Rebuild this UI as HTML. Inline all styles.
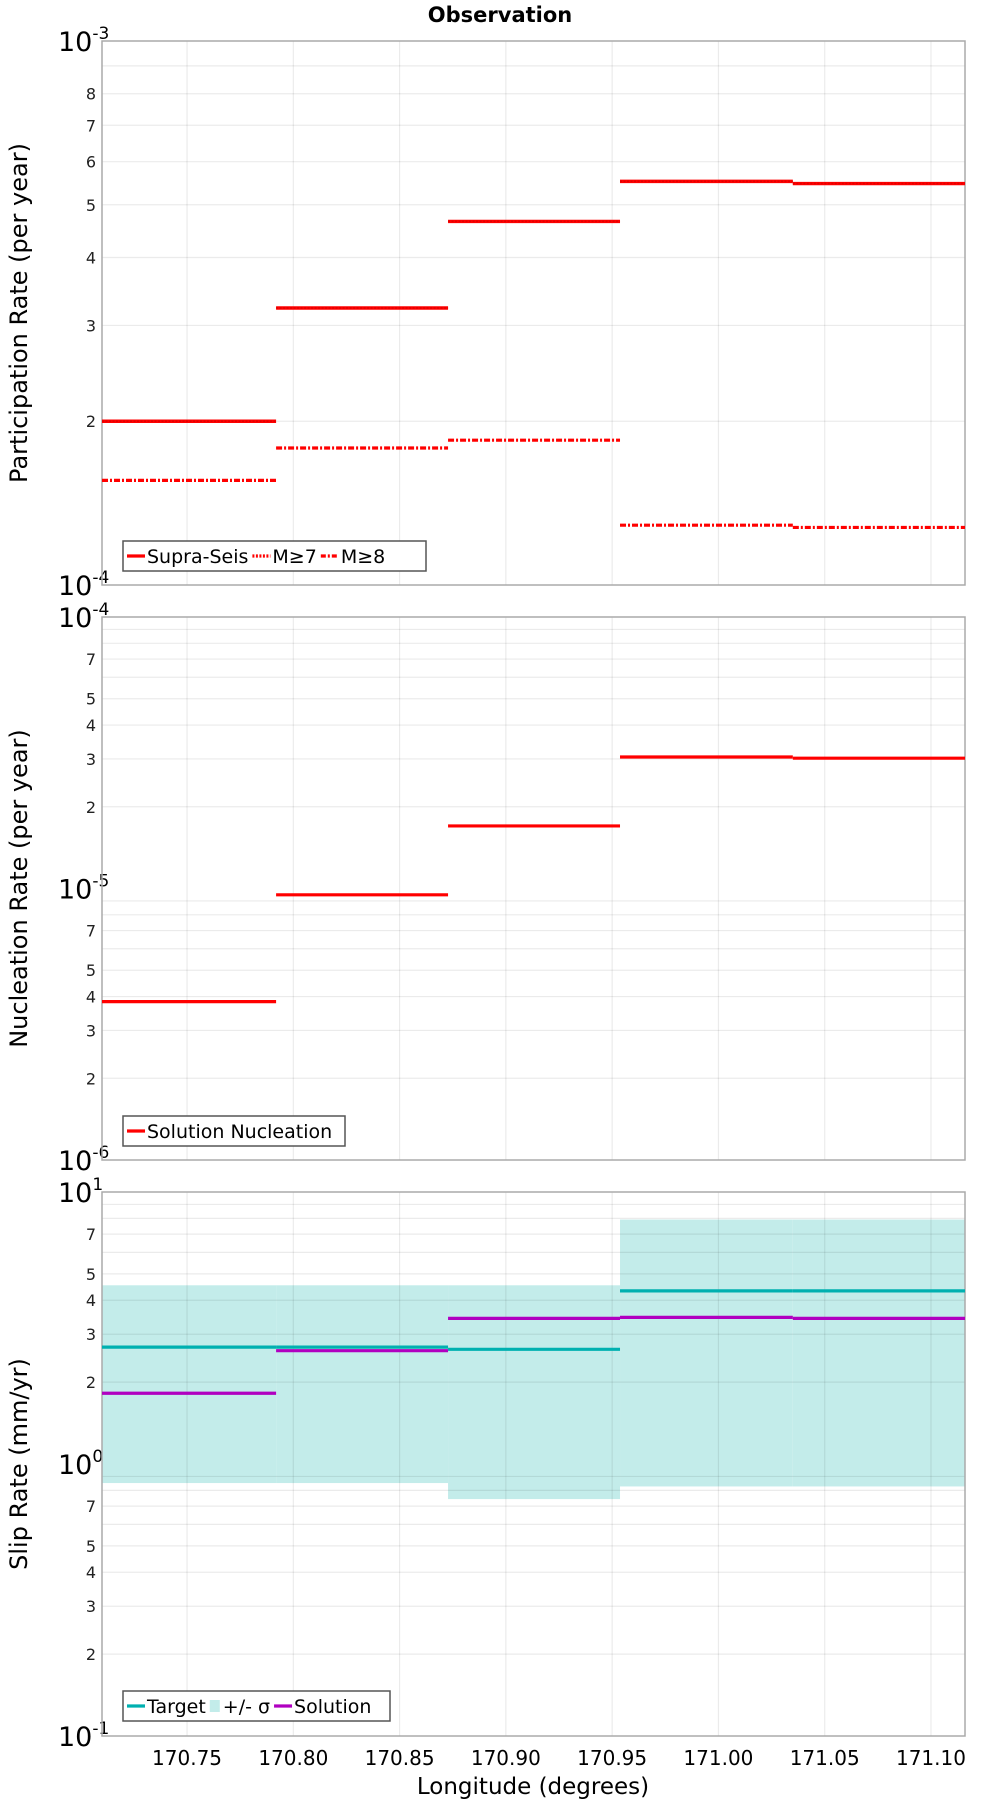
<!DOCTYPE html>
<html><head><meta charset="utf-8"><style>
body{margin:0;background:#fff;width:1000px;height:1800px;overflow:hidden}
svg{font-family:"DejaVu Sans","Liberation Sans",sans-serif}
</style></head><body>
<svg id="chart" width="1000" height="1800" viewBox="0 0 1000 1800" xmlns="http://www.w3.org/2000/svg"></svg>
<script>
const binEdges = [170.71, 170.7919, 170.8728, 170.9537, 171.035, 171.116];
const xTicks = [170.75, 170.80, 170.85, 170.90, 170.95, 171.00, 171.05, 171.10];
const xTickLabels = ["170.75","170.80","170.85","170.90","170.95","171.00","171.05","171.10"];
const supraSeis = [2.0e-4, 3.23e-4, 4.66e-4, 5.52e-4, 5.47e-4];
const m7 = [2.0e-4, 3.23e-4, 4.66e-4, 5.52e-4, 5.47e-4];
const m8 = [1.557e-4, 1.786e-4, 1.846e-4, 1.288e-4, 1.276e-4];
const nucleation = [3.83e-6, 9.48e-6, 1.70e-5, 3.05e-5, 3.02e-5];
const slipTarget = [2.69, 2.69, 2.64, 4.33, 4.33];
const slipSolution = [1.82, 2.61, 3.43, 3.46, 3.43];
const slipUpper = [4.54, 4.54, 4.54, 7.92, 7.92];
const slipLower = [0.851, 0.851, 0.743, 0.827, 0.827];

const NS="http://www.w3.org/2000/svg";
const svg=document.getElementById('chart');
function el(tag,attrs,parent,text){const e=document.createElementNS(NS,tag);for(const k in attrs)e.setAttribute(k,attrs[k]);if(text!==undefined)e.textContent=text;(parent||svg).appendChild(e);return e;}
const L=102,R=965;
const xMin=binEdges[0],xMax=binEdges[binEdges.length-1];
function xs(v){return L+(v-xMin)/(xMax-xMin)*(R-L);}

const t=el('text',{x:500,y:22,'text-anchor':'middle','font-size':21,'font-weight':'bold'},svg,'Observation');



function panel(name,top,bot,eMin,eMax,minorLabels,yTitle){
  const g=el('g',{});
  
  
  const ys=v=>bot-(Math.log10(v)-eMin)/(eMax-eMin)*(bot-top);
  return {g,ys,top,bot,eMin,eMax,minorLabels,yTitle};
}
function drawAxes(p){
  const {g,ys,top,bot,eMin,eMax,minorLabels,yTitle}=p;
  const grid=el('g',{stroke:'#000','stroke-opacity':0.08,'stroke-width':1.2},g);
  
  
  xTicks.forEach(v=>el('line',{x1:xs(v),x2:xs(v),y1:top,y2:bot},grid));
  for(let e=eMin;e<eMax;e++){
    for(let m=2;m<=9;m++){
      const y=ys(m*Math.pow(10,e));
      el('line',{x1:L,x2:R,y1:y,y2:y},grid);
      if(minorLabels.includes(m)){
        const tl=el('text',{x:96,y:y+6,'text-anchor':'end','font-size':16,fill:'#222'},g,String(m));
        
        
      }
    }
  }
  for(let e=eMin;e<=eMax;e++){
    const y=ys(Math.pow(10,e));
    const tl=el('text',{x:58,y:y+10,'font-size':27,fill:'#000'},g);
    
    
    el('tspan',{},tl,'10');
    el('tspan',{dy:-12,'font-size':17},tl,String(e));
  }
  const fr=el('rect',{x:L,y:top,width:R-L,height:bot-top,fill:'none',stroke:'#aaa','stroke-width':1.5},g);
  
  
  const yt=el('text',{x:0,y:0,transform:`translate(27,${(top+bot)/2}) rotate(-90)`,'text-anchor':'middle','font-size':24},g,yTitle);
  
  
}
function stepLine(p,vals,color,dash,name,w){
  const gg=el('g',{},p.g);
  
  
  vals.forEach((v,i)=>{
    const a={x1:xs(binEdges[i]),x2:xs(binEdges[i+1]),y1:p.ys(v),y2:p.ys(v),stroke:color,'stroke-width':w||3.2};
    if(dash)a['stroke-dasharray']=dash;
    const ln=el('line',a,gg);
    
    
  });
}
function legend(p,x,y,w,items){
  const lg=el('g',{},p.g);
  
  
  el('rect',{x:x,y:y,width:w,height:30,fill:'#fff',stroke:'#555','stroke-width':1.5},lg);
  let cx=x+4;
  items.forEach(it=>{
    const e=el('g',{},lg);
    
    
    if(it.box){el('rect',{x:cx,y:y+9,width:10,height:12,fill:it.color},e);cx+=13;}
    else{const a={x1:cx,x2:cx+18,y1:y+15,y2:y+15,stroke:it.color,'stroke-width':3.2};if(it.dash)a['stroke-dasharray']=it.dash;el('line',a,e);cx+=20;}
    const tx=el('text',{x:cx,y:y+22,'font-size':19},e,it.label);
    cx+=tx.getComputedTextLength()+4;
  });
}

// Panel 1
const p1=panel('participation-rate-panel',41,585,-4,-3,[2,3,4,5,6,7,8],'Participation Rate (per year)');
drawAxes(p1);
stepLine(p1,supraSeis,'#ff0000',null,'supra-seis-line',3.4);
stepLine(p1,m7,'#e00000','2 1.5','m7-line',1.5);
stepLine(p1,m8,'#ff0000','6 2 2 2','m8-line');
legend(p1,123,541,303,[{label:'Supra-Seis',color:'#f00'},{label:'M≥7',color:'#f00',dash:'2 1.5'},{label:'M≥8',color:'#f00',dash:'5 2 2 2'}]);

// Panel 2
const p2=panel('nucleation-rate-panel',617,1160,-6,-4,[2,3,4,5,7],'Nucleation Rate (per year)');
drawAxes(p2);
stepLine(p2,nucleation,'#ff0000',null,'solution-nucleation-line');
legend(p2,123,1116,222,[{label:'Solution Nucleation',color:'#f00'}]);

// Panel 3
const p3=panel('slip-rate-panel',1192,1736,-1,1,[2,3,4,5,7],'Slip Rate (mm/yr)');
const band=el('g',{},p3.g);


slipUpper.forEach((u,i)=>{
  const r=el('rect',{x:xs(binEdges[i]),y:p3.ys(u),width:xs(binEdges[i+1])-xs(binEdges[i]),height:p3.ys(slipLower[i])-p3.ys(u),fill:'#c3ecea'},band);
  
  
});
drawAxes(p3);
stepLine(p3,slipTarget,'#00b0b0',null,'target-line');
stepLine(p3,slipSolution,'#b000c0',null,'solution-line');
legend(p3,123,1691,267,[{label:'Target',color:'#00b0b0'},{label:'+/- σ',color:'#c3ecea',box:true},{label:'Solution',color:'#b000c0'}]);

// X axis
xTicks.forEach((v,i)=>{
  const tl=el('text',{x:xs(v),y:1765,'text-anchor':'middle','font-size':20},svg,xTickLabels[i]);
  
  
});
const xt=el('text',{x:533,y:1794,'text-anchor':'middle','font-size':23},svg,'Longitude (degrees)');


</script>
</body></html>
